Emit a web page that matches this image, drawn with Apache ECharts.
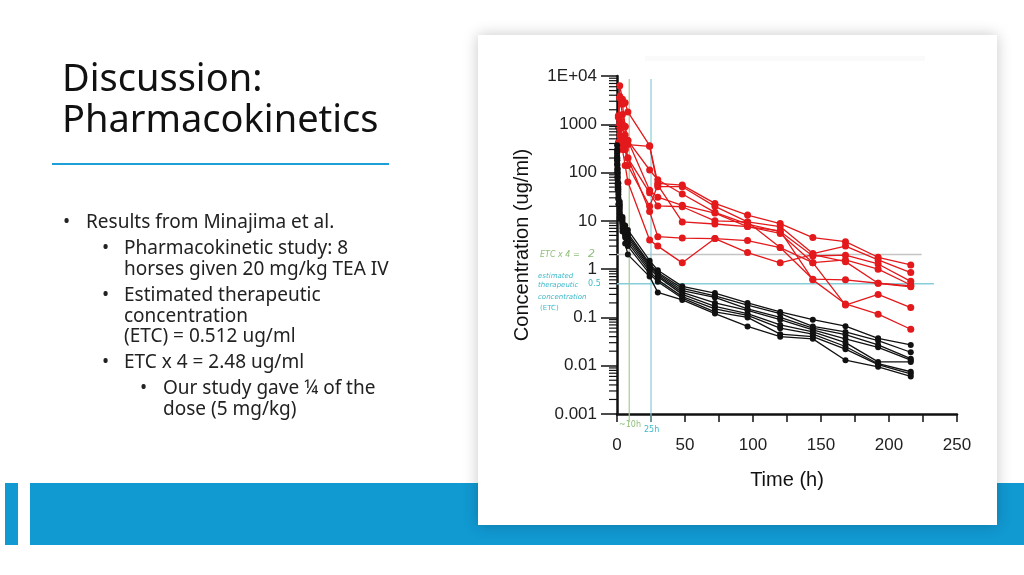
<!DOCTYPE html>
<html>
<head>
<meta charset="utf-8">
<title>Discussion: Pharmacokinetics</title>
<script src="https://cdn.jsdelivr.net/npm/echarts@6/dist/echarts.min.js"></script>
<style>
  html, body { margin: 0; padding: 0; background: #fff; }
  #main { width: 1024px; height: 575px; }
</style>
</head>
<body>
<div id="main"></div>
<script>
// sampling times (h)
var timesRed = [1, 2, 4, 6, 8, 24, 30, 48, 72, 96, 120, 144, 168, 192, 216];
var timesBlack = [0.08, 0.25, 0.5, 1, 2, 4, 6, 8, 24, 30, 48, 72, 96, 120, 144, 168, 192, 216];

// Minajima et al., 20 mg/kg (red), ug/ml
var red1 = [1500, 6300, 3300, 2800, 1800, 360, 60, 55, 23, 13.2, 8.8, 4.5, 3.7, 1.76, 1.22];
var red2 = [900, 3800, 1600, 900, 380, 350, 51, 51, 20, 9.5, 7.6, 2.1, 3.0, 1.55, 0.85];
var red3 = [1400, 3500, 2600, 900, 460, 113, 71, 36, 15, 8.6, 6.0, 1.87, 1.95, 1.28, 0.56];
var red4 = [420, 1500, 1000, 600, 460, 43, 31, 21, 14.5, 7.6, 5.5, 1.36, 1.55, 1.0, 0.47];
var red5 = [900, 1200, 900, 420, 200, 38, 20.4, 19.6, 10, 9.5, 2.8, 0.62, 0.6, 0.51, 0.43];
var red6 = [400, 800, 500, 300, 140, 20, 55, 9.5, 8.6, 7.6, 6.2, 0.6, 0.19, 0.117, 0.057];
var red7 = [380, 600, 400, 300, 200, 15.6, 4.7, 4.4, 4.3, 3.9, 2.8, 1.36, 0.18, 0.3, 0.16];
var red8 = [300, 450, 300, 140, 64, 4, 3.0, 1.35, 4.3, 2.2, 1.35, 2.0, 1.43, 0.51, 0.45];

// our study, 5 mg/kg (black), ug/ml
var black1 = [370, 200, 120, 60, 25, 12, 8, 6.5, 1.5, 0.95, 0.44, 0.32, 0.2, 0.13, 0.09, 0.066, 0.037, 0.027];
var black2 = [300, 180, 100, 50, 22, 11, 7, 5.5, 1.3, 0.85, 0.4, 0.28, 0.18, 0.12, 0.065, 0.05, 0.033, 0.019];
var black3 = [280, 150, 90, 45, 20, 10, 6.5, 5, 1.2, 0.8, 0.36, 0.26, 0.15, 0.1, 0.06, 0.044, 0.027, 0.014];
var black4 = [250, 140, 80, 40, 18, 9, 6, 4.5, 1.1, 0.75, 0.33, 0.2, 0.14, 0.09, 0.055, 0.036, 0.024, 0.013];
var black5 = [220, 120, 70, 35, 16, 9, 5.5, 4, 1.0, 0.7, 0.3, 0.17, 0.12, 0.07, 0.05, 0.03, 0.012, 0.012];
var black6 = [200, 110, 60, 30, 14, 8, 5, 3.5, 0.9, 0.6, 0.27, 0.15, 0.11, 0.06, 0.045, 0.025, 0.011, 0.0075];
var black7 = [180, 100, 55, 28, 12, 7, 4.5, 3, 0.8, 0.55, 0.25, 0.13, 0.1, 0.045, 0.04, 0.022, 0.0105, 0.0068];
var black8 = [150, 80, 45, 22, 11, 6, 3.4, 2, 0.7, 0.33, 0.23, 0.12, 0.065, 0.04, 0.036, 0.013, 0.0095, 0.006];

// axis ticks
var yTickValues = [0.001, 0.01, 0.1, 1, 10, 100, 1000, 10000];
var yTickLabels = ['0.001', '0.01', '0.1', '1', '10', '100', '1000', '1E+04'];
var minorMultipliers = [2, 3, 4, 5, 6, 7, 8, 9];

// reference values
var etcTimes4 = 2;
var etc = 0.5;
var hourGreen = 9;
var hourCyan = 25;

var redSets = [red1, red2, red3, red4, red5, red6, red7, red8];
var blackSets = [black1, black2, black3, black4, black5, black6, black7, black8];

var minorTicks = [];
for (var d = 0; d < yTickValues.length - 1; d++) {
    for (var m = 0; m < minorMultipliers.length; m++)
        minorTicks.push([0, yTickValues[d] * minorMultipliers[m]]);
}

function pairs(times, values) {
    return times.map(function (t, i) { return [t, values[i]]; });
}

function horse(name, times, values, color, size) {
    return {
        name: name,
        type: 'line',
        data: pairs(times, values),
        symbol: 'circle',
        symbolSize: size,
        itemStyle: { color: color },
        lineStyle: { color: color, width: 1.3 },
        silent: true,
        z: 4
    };
}

function refLine(points, color, width) {
    return {
        type: 'line',
        data: points,
        symbol: 'none',
        clip: false,
        silent: true,
        lineStyle: { color: color, width: width },
        z: 3
    };
}

var series = [];
series.push(refLine([[-14.7, etcTimes4], [224, etcTimes4]], '#c4c4c4', 1.5));
series.push(refLine([[-12.5, etc], [233, etc]], '#86cdd8', 1.5));
series.push(refLine([[hourGreen, 0.00068], [hourGreen, 8700]], '#a8cc95', 1.2));
series.push(refLine([[hourCyan, 0.00068], [hourCyan, 8700]], '#86cdd8', 1.2));
redSets.forEach(function (v, i) {
    series.push(horse('red' + (i + 1), timesRed, v, '#e3191c', 7));
});
blackSets.forEach(function (v, i) {
    series.push(horse('black' + (i + 1), timesBlack, v, '#111111', 6));
});
// log minor ticks on the y axis
series.push({
    type: 'custom',
    data: minorTicks,
    clip: false,
    silent: true,
    z: 5,
    renderItem: function (params, api) {
        var p = api.coord([api.value(0), api.value(1)]);
        return {
            type: 'line',
            shape: { x1: p[0] - 8, y1: p[1], x2: p[0], y2: p[1] },
            style: { stroke: '#111', lineWidth: 1.2 }
        };
    }
});

var bodyFont = '19px "Noto Sans"';
var bulletLines = [
    { lvl: 1, y: 223, text: 'Results from Minajima et al.', bullet: true },
    { lvl: 2, y: 249, text: 'Pharmacokinetic study: 8', bullet: true },
    { lvl: 2, y: 270, text: 'horses given 20 mg/kg TEA IV' },
    { lvl: 2, y: 296, text: 'Estimated therapeutic', bullet: true },
    { lvl: 2, y: 317, text: 'concentration' },
    { lvl: 2, y: 337, text: '(ETC) = 0.512 ug/ml' },
    { lvl: 2, y: 363, text: 'ETC x 4 = 2.48 ug/ml', bullet: true },
    { lvl: 3, y: 389, text: 'Our study gave \u00bc of the', bullet: true },
    { lvl: 3, y: 410, text: 'dose (5 mg/kg)' }
];
var bulletX = { 1: 63, 2: 102, 3: 140 };
var textX = { 1: 86, 2: 124, 3: 163 };

var graphics = [
    { type: 'rect', z: -30, shape: { x: 5, y: 483, width: 13, height: 62 }, style: { fill: '#1199d2' } },
    { type: 'rect', z: -30, shape: { x: 30, y: 483, width: 994, height: 62 }, style: { fill: '#1199d2' } },
    { type: 'rect', z: -20, shape: { x: 478, y: 35, width: 519, height: 490 },
      style: { fill: '#ffffff', shadowBlur: 14, shadowColor: 'rgba(0,0,0,0.22)' } },
    { type: 'rect', z: -19, shape: { x: 645, y: 56, width: 280, height: 5 },
      style: { fill: 'rgba(0,0,0,0.02)', shadowBlur: 8, shadowColor: 'rgba(0,0,0,0.06)' } },
    { type: 'text', x: 62, y: 80, style: { text: 'Discussion:', font: '38px "Noto Sans"', fill: '#111', verticalAlign: 'middle' } },
    { type: 'text', x: 62, y: 121, style: { text: 'Pharmacokinetics', font: '38px "Noto Sans"', fill: '#111', verticalAlign: 'middle' } },
    { type: 'rect', shape: { x: 52, y: 163, width: 337, height: 2 }, style: { fill: '#1e9fd8' } },
    // handwritten annotations
    { type: 'text', x: 540, y: 255, style: { text: 'ETC x 4 =', font: 'italic 8px "DejaVu Sans"', fill: '#8dbf78', verticalAlign: 'middle' } },
    { type: 'text', x: 588, y: 254, style: { text: '2', font: 'italic 11px "DejaVu Sans"', fill: '#8dbf78', verticalAlign: 'middle' } },
    { type: 'text', x: 538, y: 276, style: { text: 'estimated', font: 'italic 7px "DejaVu Sans"', fill: '#3db9c9', verticalAlign: 'middle' } },
    { type: 'text', x: 538, y: 285, style: { text: 'therapeutic', font: 'italic 7px "DejaVu Sans"', fill: '#3db9c9', verticalAlign: 'middle' } },
    { type: 'text', x: 588, y: 284, style: { text: '0.5', font: '8px "DejaVu Sans"', fill: '#3db9c9', verticalAlign: 'middle' } },
    { type: 'text', x: 538, y: 297, style: { text: 'concentration', font: 'italic 7px "DejaVu Sans"', fill: '#3db9c9', verticalAlign: 'middle' } },
    { type: 'text', x: 540, y: 308, style: { text: '(ETC)', font: '7px "DejaVu Sans"', fill: '#3db9c9', verticalAlign: 'middle' } },
    { type: 'text', x: 619, y: 425, style: { text: '~10h', font: '8px "DejaVu Sans"', fill: '#8dbf78', verticalAlign: 'middle' } },
    { type: 'text', x: 644, y: 430, style: { text: '25h', font: '8px "DejaVu Sans"', fill: '#3db9c9', verticalAlign: 'middle' } }
];
bulletLines.forEach(function (b) {
    if (b.bullet)
        graphics.push({ type: 'text', x: bulletX[b.lvl], y: b.y, style: { text: '\u2022', font: bodyFont, fill: '#222', verticalAlign: 'middle' } });
    graphics.push({ type: 'text', x: textX[b.lvl], y: b.y, style: { text: b.text, font: bodyFont, fill: '#222', verticalAlign: 'middle' } });
});

var myChart = echarts.init(document.getElementById('main'));

var options = {
    animation: false,
    backgroundColor: '#ffffff',
    graphic: graphics,
    grid: { left: 617, right: 67, top: 76, bottom: 161, containLabel: false },
    xAxis: {
        type: 'value',
        min: 0,
        max: 250,
        interval: 25,
        name: 'Time (h)',
        nameLocation: 'middle',
        nameGap: 56,
        nameTextStyle: { fontFamily: 'Liberation Sans', fontSize: 20, color: '#111' },
        axisLine: { show: true, lineStyle: { color: '#111', width: 2.5 } },
        axisTick: { show: true, length: 8, lineStyle: { color: '#111', width: 1.5 } },
        axisLabel: {
            margin: 23,
            fontFamily: 'Liberation Sans',
            fontSize: 17,
            color: '#222',
            formatter: function (v) { return v % 50 === 0 ? String(v) : ''; }
        },
        splitLine: { show: false }
    },
    yAxis: {
        type: 'log',
        logBase: 10,
        min: 0.001,
        max: 10000,
        splitNumber: 7,
        name: 'Concentration (ug/ml)',
        nameLocation: 'middle',
        nameGap: 85,
        nameRotate: 90,
        nameTextStyle: { fontFamily: 'Liberation Sans', fontSize: 20, color: '#111' },
        axisLine: { show: true, lineStyle: { color: '#111', width: 2.5 } },
        axisTick: { show: true, length: 16, lineStyle: { color: '#111', width: 1.5 } },
        axisLabel: {
            margin: 20,
            fontFamily: 'Liberation Sans',
            fontSize: 17,
            color: '#222',
            formatter: function (v) {
                for (var i = 0; i < yTickValues.length; i++)
                    if (Math.abs(Math.log10(v) - Math.log10(yTickValues[i])) < 1e-6)
                        return yTickLabels[i];
                return '';
            }
        },
        splitLine: { show: false }
    },
    series: series
};

myChart.setOption(options);
</script>
</body>
</html>
